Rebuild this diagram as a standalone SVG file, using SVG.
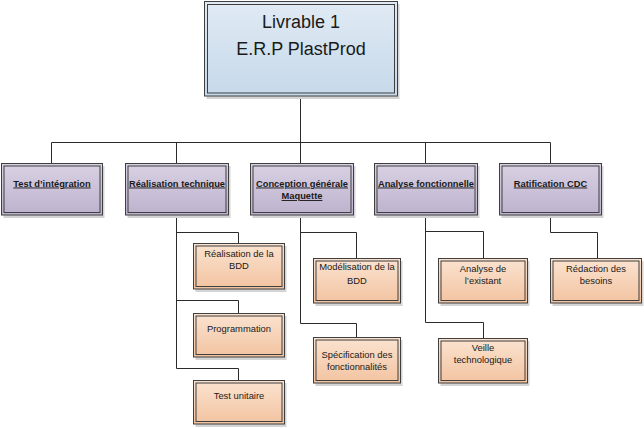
<svg xmlns="http://www.w3.org/2000/svg" width="644" height="428" viewBox="0 0 644 428">
<defs>
<linearGradient id="gTop" x1="0" y1="0" x2="0" y2="1"><stop offset="0" stop-color="#e0eaf4"/><stop offset="1" stop-color="#c6d9ea"/></linearGradient>
<linearGradient id="gL1" x1="0" y1="0" x2="0" y2="1"><stop offset="0" stop-color="#d9d1e3"/><stop offset="1" stop-color="#bdb2cd"/></linearGradient>
<linearGradient id="gL2" x1="0" y1="0" x2="0" y2="1"><stop offset="0" stop-color="#fbe3d0"/><stop offset="1" stop-color="#f2c3a0"/></linearGradient>
</defs>
<style>
.sh{fill:#d4d4d4}
.o{stroke:#3f3f3f;stroke-width:1}
.i{fill:none;stroke:#3f3f3f;stroke-width:1}
.top{fill:url(#gTop)}
.l1{fill:url(#gL1)}
.l2{fill:url(#gL2)}
.c{fill:none;stroke:#2b2b2b;stroke-width:1}
text{font-family:"Liberation Sans",Arial,sans-serif;fill:#1a1a1a;text-anchor:middle}
.tt{font-size:18px}
.t1{font-size:9.3px;font-weight:bold;text-decoration:underline}
.t2{font-size:9.4px}
</style>
<rect width="644" height="428" fill="#ffffff"/>
<g id="connectors">
<path class="c" d="M300.5 96 V142.5 M51.5 142.5 H550.5 M51.5 142.5 V163 M176.5 142.5 V163 M300.5 142.5 V163 M425.5 142.5 V163 M550.5 142.5 V163"/>
<path class="c" d="M176.5 215 V368.5 M176.5 232.5 H238.5 V243 M176.5 300.5 H238.5 V313 M176.5 368.5 H238.5 V380"/>
<path class="c" d="M300.5 215 V323.5 M300.5 232.5 H356.5 V258 M300.5 323.5 H356.5 V337"/>
<path class="c" d="M425.5 215 V322.5 M425.5 231.5 H483.5 V258 M425.5 322.5 H483.5 V338"/>
<path class="c" d="M550.5 215 V232.5 H597.5 V258"/>
</g>
<g id="livrable">
<rect class="sh" x="206.5" y="4" width="193" height="95"/>
<rect class="o top" x="204.5" y="1.5" width="193" height="94.5"/>
<rect class="i" x="207.5" y="4.5" width="187" height="88.5"/>
<text class="tt" x="301" y="28">Livrable 1</text>
<text class="tt" x="301" y="55">E.R.P PlastProd</text>
</g>
<g id="test-integration">
<rect class="sh" x="3.5" y="166" width="101" height="52"/>
<rect class="o l1" x="1.5" y="163.5" width="101" height="51.5"/>
<rect class="i" x="4" y="166" width="96" height="46.5"/>
<text class="t1" x="52" y="186.5">Test d’intégration</text>
</g>
<g id="realisation-technique">
<rect class="sh" x="127.5" y="166" width="103" height="52"/>
<rect class="o l1" x="125.5" y="163.5" width="103" height="51.5"/>
<rect class="i" x="128" y="166" width="98" height="46.5"/>
<text class="t1" x="177" y="186.5">Réalisation technique</text>
</g>
<g id="conception-generale">
<rect class="sh" x="252.5" y="166" width="103" height="52"/>
<rect class="o l1" x="250.5" y="163.5" width="103" height="51.5"/>
<rect class="i" x="253" y="166" width="98" height="46.5"/>
<text class="t1" x="302" y="186.5">Conception générale</text>
<text class="t1" x="302" y="199">Maquette</text>
</g>
<g id="analyse-fonctionnelle">
<rect class="sh" x="376.5" y="166" width="103" height="52"/>
<rect class="o l1" x="374.5" y="163.5" width="103" height="51.5"/>
<rect class="i" x="377" y="166" width="98" height="46.5"/>
<text class="t1" x="426" y="186.5">Analyse fonctionnelle</text>
</g>
<g id="ratification-cdc">
<rect class="sh" x="501.5" y="166" width="102" height="52"/>
<rect class="o l1" x="499.5" y="163.5" width="102" height="51.5"/>
<rect class="i" x="502" y="166" width="97" height="46.5"/>
<text class="t1" x="550.5" y="186.5">Ratification CDC</text>
</g>
<g id="realisation-bdd">
<rect class="sh" x="195.5" y="246" width="91" height="46"/>
<rect class="o l2" x="193.5" y="243.5" width="91" height="45.5"/>
<rect class="i" x="196" y="246" width="86" height="40.5"/>
<text class="t2" x="239" y="257">Réalisation de la</text>
<text class="t2" x="239" y="269">BDD</text>
</g>
<g id="programmation">
<rect class="sh" x="195.5" y="316" width="91" height="44"/>
<rect class="o l2" x="193.5" y="313.5" width="91" height="43.5"/>
<rect class="i" x="196" y="316" width="86" height="38.5"/>
<text class="t2" x="239" y="332">Programmation</text>
</g>
<g id="test-unitaire">
<rect class="sh" x="195.5" y="383" width="91" height="44"/>
<rect class="o l2" x="193.5" y="380.5" width="91" height="43.5"/>
<rect class="i" x="196" y="383" width="86" height="38.5"/>
<text class="t2" x="239" y="399">Test unitaire</text>
</g>
<g id="modelisation-bdd">
<rect class="sh" x="315.5" y="261" width="87" height="45"/>
<rect class="o l2" x="313.5" y="258.5" width="87" height="44.5"/>
<rect class="i" x="316" y="261" width="82" height="39.5"/>
<text class="t2" x="357" y="270">Modélisation de la</text>
<text class="t2" x="357" y="284">BDD</text>
</g>
<g id="specification">
<rect class="sh" x="315.5" y="340" width="87" height="46"/>
<rect class="o l2" x="313.5" y="337.5" width="87" height="45.5"/>
<rect class="i" x="316" y="340" width="82" height="40.5"/>
<text class="t2" x="357" y="357.5">Spécification des</text>
<text class="t2" x="357" y="370">fonctionnalités</text>
</g>
<g id="analyse-existant">
<rect class="sh" x="440.5" y="261" width="89" height="45"/>
<rect class="o l2" x="438.5" y="258.5" width="89" height="44.5"/>
<rect class="i" x="441" y="261" width="84" height="39.5"/>
<text class="t2" x="483" y="272">Analyse de</text>
<text class="t2" x="483" y="284">l’existant</text>
</g>
<g id="veille">
<rect class="sh" x="440.5" y="341" width="89" height="45"/>
<rect class="o l2" x="438.5" y="338.5" width="89" height="44.5"/>
<rect class="i" x="441" y="341" width="84" height="39.5"/>
<text class="t2" x="483" y="351">Veille</text>
<text class="t2" x="483" y="363">technologique</text>
</g>
<g id="redaction-besoins">
<rect class="sh" x="552.5" y="261" width="91" height="45"/>
<rect class="o l2" x="550.5" y="258.5" width="91" height="44.5"/>
<rect class="i" x="553" y="261" width="86" height="39.5"/>
<text class="t2" x="596" y="272">Rédaction des</text>
<text class="t2" x="596" y="284">besoins</text>
</g>
</svg>
